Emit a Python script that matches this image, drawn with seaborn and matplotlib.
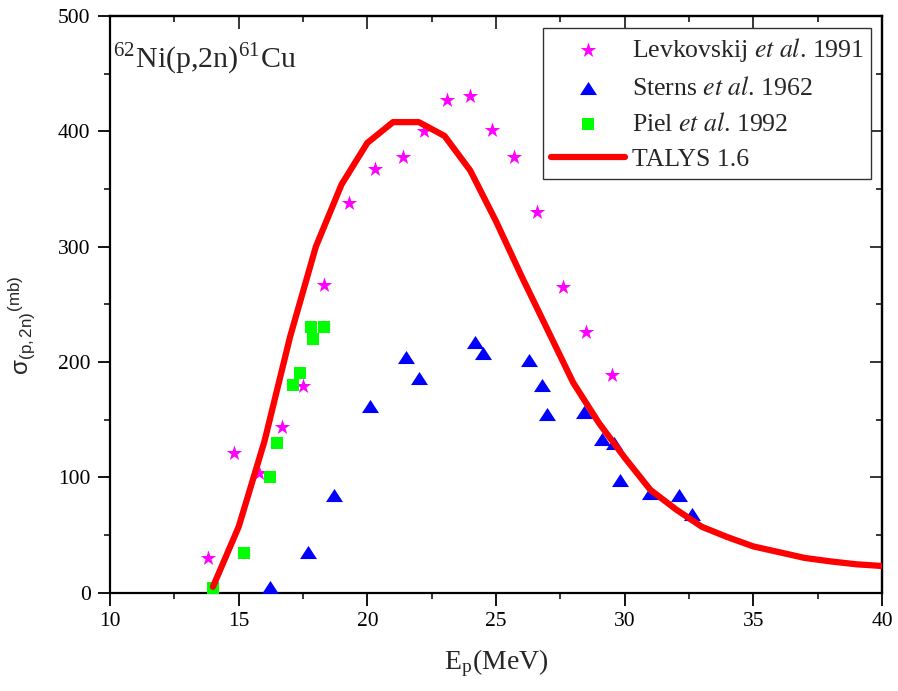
import matplotlib
matplotlib.use("Agg")
import matplotlib.pyplot as plt
import seaborn as sns
import numpy as np
import pandas as pd

# Experimental cross sections for 62Ni(p,2n)61Cu
lev_E = [13.8, 14.8, 15.8, 16.7, 17.5, 18.3, 19.3, 20.3, 21.4, 22.2, 23.1, 24.0,
         24.85, 25.7, 26.6, 27.6, 28.5, 29.5]
lev_sigma = [30, 121, 104, 144, 179, 267, 338, 367, 378, 400, 427, 431,
             401, 378, 330, 265, 226, 189]

sterns_E = [16.2, 17.7, 18.7, 20.1, 21.5, 22.0, 24.2, 24.5, 26.3, 26.8, 27.0,
            28.4, 29.1, 29.6, 29.8, 31.0, 32.1, 32.6]
sterns_sigma = [5, 35, 85, 162, 204, 186, 217, 208, 202, 180, 155,
                157, 133, 130, 98, 86, 85, 68]

piel_E = [14.0, 15.2, 16.2, 16.5, 17.1, 17.4, 17.8, 17.9, 18.3]
piel_sigma = [4, 34, 100, 130, 180, 190, 230, 220, 230]

# TALYS 1.6 calculation
talys_E = list(range(14, 41))
talys_sigma = [5, 57, 131, 222, 300, 354, 390, 408, 408, 396, 366, 322, 274,
               228, 182, 147, 117, 89, 72, 57, 48, 40, 35, 30, 27, 24.5, 23]

labels = ["Levkovskij $\\mathit{et\\ al}$. 1991",
          "Sterns $\\mathit{et\\ al}$. 1962",
          "Piel $\\mathit{et\\ al}$. 1992",
          "TALYS 1.6"]

sns.set_style("ticks")
plt.rcParams["font.family"] = ["Liberation Serif", "DejaVu Serif"]
plt.rcParams["mathtext.fontset"] = "stix"

fig = plt.figure(figsize=(8.98, 6.91), dpi=100)
ax = fig.add_axes([0.1225, 0.1425, 0.8597, 0.8343])

wide_triangle = [(-1.0, -0.77), (1.0, -0.77), (0.0, 0.77)]

sns.scatterplot(x=lev_E, y=lev_sigma, marker="*", s=135, color="#FF00FF",
                linewidth=0, ax=ax, label=labels[0], zorder=3)
sns.scatterplot(x=sterns_E, y=sterns_sigma, marker=wide_triangle, s=150,
                color="#0000FF", linewidth=0, ax=ax, label=labels[1], zorder=3)
sns.scatterplot(x=piel_E, y=piel_sigma, marker="s", s=85, color="#00FF00",
                linewidth=0, ax=ax, label=labels[2], zorder=3)
sns.lineplot(x=talys_E, y=talys_sigma, color="#FF0000", linewidth=4.5,
             ax=ax, label=labels[3], zorder=4)

ax.set_xlim(10, 40)
ax.set_ylim(0, 500)
ax.set_xticks(np.arange(10, 41, 5))
ax.set_yticks(np.arange(0, 501, 100))
ax.set_xticks(np.arange(12.5, 40, 5), minor=True)
ax.set_yticks(np.arange(50, 500, 100), minor=True)

for side in ["left", "right", "top", "bottom"]:
    ax.spines[side].set_visible(True)
    ax.spines[side].set_linewidth(1.6)
    ax.spines[side].set_color("black")

ax.tick_params(axis="both", which="major", direction="out", length=9,
               width=1.3, labelsize=15.5, pad=5, colors="black")
ax.tick_params(axis="both", which="minor", direction="out", length=4.5,
               width=1.3)
# inward ticks on the opposite frame sides
ax2 = ax.secondary_xaxis("top")
ax2.set_xticks(np.arange(10, 41, 5))
ax2.set_xticks(np.arange(12.5, 40, 5), minor=True)
ax2.tick_params(which="major", direction="in", length=9, width=1.3, labeltop=False)
ax2.tick_params(which="minor", direction="in", length=4.5, width=1.3)
ay2 = ax.secondary_yaxis("right")
ay2.set_yticks(np.arange(0, 501, 100))
ay2.set_yticks(np.arange(50, 500, 100), minor=True)
ay2.tick_params(which="major", direction="in", length=9, width=1.3, labelright=False)
ay2.tick_params(which="minor", direction="in", length=4.5, width=1.3)
for s in ax2.spines.values():
    s.set_linewidth(1.6)
for s in ay2.spines.values():
    s.set_linewidth(1.6)

ax.set_xlabel(r"E$_{\mathregular{p}}$(MeV)", fontsize=20, labelpad=12)
ax.set_ylabel(r"$\mathregular{σ}_{\mathregular{(p,2n)}}{}^{\mathregular{(mb)}}$",
              fontsize=17.5, family="Liberation Sans")
ax.yaxis.set_label_coords(-0.095, 0.464)

ax.text(0.004, 0.957, r"$^{\mathregular{62}}$Ni(p,2n)$^{\mathregular{61}}$Cu",
        transform=ax.transAxes, fontsize=21.5, ha="left", va="top")

leg = ax.legend(loc="upper right", bbox_to_anchor=(0.986, 0.979),
                borderaxespad=0, fontsize=18.5, frameon=True, fancybox=False,
                edgecolor="#333333", framealpha=1, handlelength=2.9,
                handletextpad=0.25, labelspacing=0.5, borderpad=0.3,
                markerscale=1.0)
leg.get_frame().set_linewidth(1.0)

fig.savefig("out.png", dpi=100)
